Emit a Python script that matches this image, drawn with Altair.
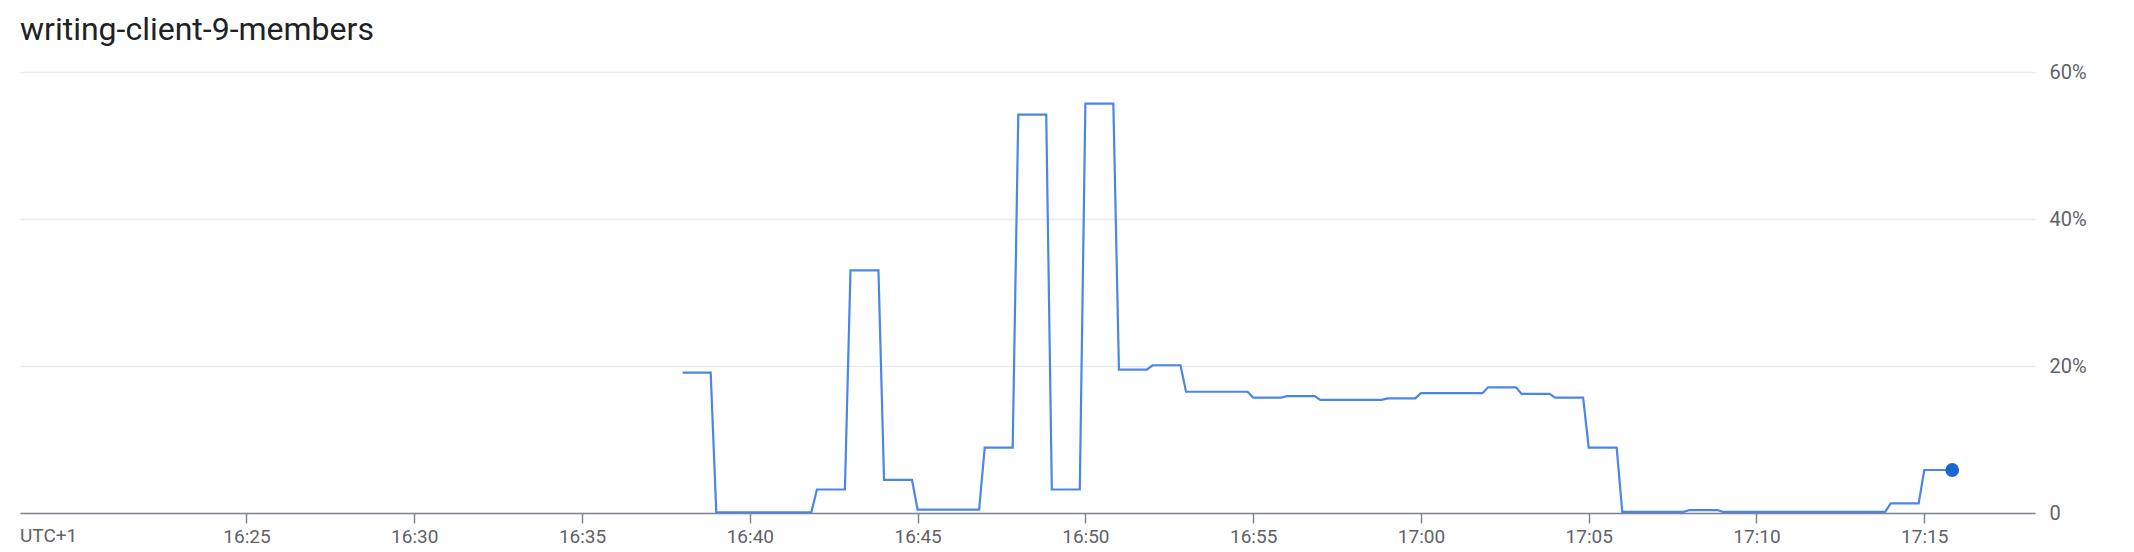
import altair as alt
import pandas as pd

# ---- data ----
chart_title = "writing-client-9-members"
tz_label = "UTC+1"

minutes = [
    "16:38", "16:39", "16:40", "16:41", "16:42", "16:43", "16:44", "16:45",
    "16:46", "16:47", "16:48", "16:49", "16:50", "16:51", "16:52", "16:53",
    "16:54", "16:55", "16:56", "16:57", "16:58", "16:59", "17:00", "17:01",
    "17:02", "17:03", "17:04", "17:05", "17:06", "17:07", "17:08", "17:09",
    "17:10", "17:11", "17:12", "17:13", "17:14", "17:15",
]
values_pct = [
    19.1, 0.1, 0.1, 0.1, 3.2, 33.0, 4.5, 0.45,
    0.45, 8.9, 54.2, 3.2, 55.7, 19.5, 20.1, 16.5,
    16.5, 15.7, 15.9, 15.4, 15.4, 15.6, 16.3, 16.3,
    17.1, 16.2, 15.7, 8.9, 0.15, 0.15, 0.4, 0.15,
    0.15, 0.15, 0.15, 0.15, 1.3, 5.85,
]
x_tick_times = ["16:25", "16:30", "16:35", "16:40", "16:45", "16:50",
                "16:55", "17:00", "17:05", "17:10", "17:15"]
y_tick_values = [0, 0.2, 0.4, 0.6]

DAY = "2024-01-01"
HOLD_SECONDS = 50  # each one-minute sample is drawn as a held value

rows = []
for m, v in zip(minutes, values_pct):
    start = pd.Timestamp(f"{DAY} {m}:00")
    end = start + pd.Timedelta(seconds=HOLD_SECONDS)
    rows.append({"time": start.isoformat(), "value": v / 100})
    rows.append({"time": end.isoformat(), "value": v / 100})
df = pd.DataFrame(rows)
last = df.tail(1)


def dt(hm, s=0):
    h, mi = hm.split(":")
    return alt.DateTime(year=2024, month=1, date=1, hours=int(h), minutes=int(mi), seconds=s)


W, H = 2015, 441
FONT = "Roboto"
GRAY = "#5f6368"

x_enc = alt.X(
    "time:T",
    scale=alt.Scale(domain=[dt("16:18", 15), dt("17:18", 18)]),
    axis=alt.Axis(
        values=[dt(t) for t in x_tick_times],
        format="%H:%M",
        title=None,
        grid=False,
        domainColor="#80868b",
        domainWidth=1.5,
        tickColor="#80868b",
        tickWidth=1.5,
        tickSize=10,
        labelFontSize=19,
        labelColor=GRAY,
        labelFont=FONT,
        labelPadding=4,
    ),
)
y_enc = alt.Y(
    "value:Q",
    scale=alt.Scale(domain=[0, 0.6], nice=False),
    axis=alt.Axis(
        orient="right",
        values=y_tick_values,
        labelExpr="datum.value == 0 ? '0' : format(datum.value, '.0%')",
        title=None,
        grid=True,
        gridColor="#e8eaed",
        gridWidth=1.5,
        domain=False,
        ticks=False,
        labelFontSize=20,
        labelColor=GRAY,
        labelFont=FONT,
        labelPadding=14,
    ),
)

line = alt.Chart(df).mark_line(color="#4a86e8", strokeWidth=2.2).encode(x=x_enc, y=y_enc)
dot = alt.Chart(last).mark_circle(size=190, color="#1a67d2", opacity=1).encode(x="time:T", y="value:Q")

title_text = alt.Chart(pd.DataFrame({"t": [chart_title]})).mark_text(
    align="left", baseline="alphabetic", fontSize=32, font=FONT, color="#202124"
).encode(x=alt.value(0), y=alt.value(-32), text="t:N")

tz_text = alt.Chart(pd.DataFrame({"t": [tz_label]})).mark_text(
    align="left", baseline="top", fontSize=19, font=FONT, color=GRAY
).encode(x=alt.value(0), y=alt.value(H + 14), text="t:N")

chart = alt.layer(line, dot, title_text, tz_text).properties(
    width=W,
    height=H,
    autosize=alt.AutoSizeParams(type="none"),
    padding={"left": 12, "top": 64, "right": 80, "bottom": 36},
    background="white",
).configure_view(stroke=None)

chart.save("out.html", embed_options={"renderer": "svg", "actions": False})
